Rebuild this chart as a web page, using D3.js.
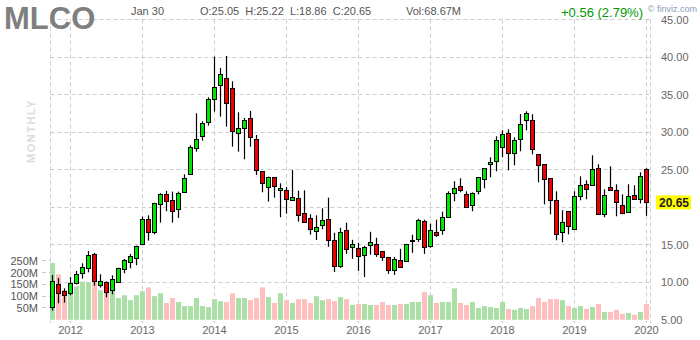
<!DOCTYPE html>
<html>
<head>
<meta charset="utf-8">
<script src="https://cdn.jsdelivr.net/npm/d3@7"></script>
<style>
  body { margin: 0; background: #fff; }
  svg { display: block; font-family: Arial, 'Liberation Sans', sans-serif; }
</style>
</head>
<body>
<div id="chart"></div>
<script>
// monthly candles, Oct 2011 .. Jan 2020
const open = [6.67, 9.73, 8.8, 8.49, 9.87, 11.2, 11.91, 13.73, 9.6, 10.0,
  8.8, 10.0, 11.73, 12.67, 13.2, 15.07, 18.44, 16.62, 20.27, 21.64,
  20.93, 19.73, 22.0, 24.4, 27.87, 29.47, 31.33, 34.4, 36.27, 37.2,
  35.87, 29.87, 30.53, 31.87, 29.07, 24.8, 22.67, 24.0, 22.27, 22.27,
  20.93, 21.2, 19.2, 18.53, 16.8, 17.6, 18.35, 15.54, 12.05, 16.88,
  14.6, 14.46, 13.53, 14.87, 15.0, 14.06, 13.26, 11.52, 12.86, 12.72,
  15.5, 15.67, 18.08, 14.73, 16.61, 16.88, 18.67, 21.87, 22.8, 21.73,
  20.27, 22.13, 23.73, 25.73, 26.13, 28.0, 29.87, 27.2, 29.07, 31.6,
  31.6, 27.07, 25.73, 23.87, 20.93, 16.67, 19.47, 17.07, 21.47, 23.07,
  22.93, 25.2, 19.07, 22.67, 22.27, 20.27, 19.33, 21.6, 21.07, 25.05]
const high = [10.98, 10.58, 9.2, 10.71, 11.51, 12.53, 14.18, 13.91, 11.07, 10.13,
  10.93, 11.95, 13.11, 13.78, 14.89, 18.76, 18.93, 20.6, 21.87, 22.18,
  22.09, 22.09, 24.4, 28.27, 32.53, 31.47, 34.67, 40.09, 38.58, 40.18,
  36.8, 32.67, 31.91, 32.84, 29.64, 24.8, 24.09, 24.0, 23.2, 22.71,
  24.98, 22.22, 22.27, 19.07, 18.93, 19.87, 21.29, 16.61, 17.28, 17.95,
  15.67, 15.27, 14.87, 16.74, 15.94, 14.06, 13.39, 13.39, 14.46, 15.13,
  16.34, 18.48, 18.35, 17.81, 18.35, 19.42, 22.13, 23.47, 23.87, 22.13,
  22.0, 24.05, 25.2, 26.67, 29.47, 30.27, 30.4, 29.33, 32.44, 32.8,
  32.4, 27.07, 25.73, 23.87, 22.13, 19.6, 19.47, 22.13, 24.13, 23.6,
  26.93, 25.73, 22.4, 25.47, 23.07, 21.73, 23.07, 22.93, 24.67, 25.22]
const low = [6.22, 7.2, 7.29, 8.27, 9.73, 10.49, 11.33, 9.56, 9.29, 8.0,
  8.4, 9.9, 11.2, 11.87, 12.27, 15.0, 15.56, 16.4, 17.96, 19.47,
  17.96, 18.58, 22.0, 24.4, 27.42, 28.89, 30.89, 32.76, 32.09, 30.76,
  28.09, 27.42, 26.4, 28.09, 24.31, 22.0, 20.76, 21.29, 18.67, 19.16,
  20.9, 18.09, 17.95, 16.36, 15.64, 17.07, 14.73, 11.38, 11.92, 13.79,
  13.13, 11.52, 10.71, 13.66, 13.39, 12.86, 11.12, 10.98, 11.9, 12.7,
  13.93, 15.4, 13.79, 14.6, 16.07, 16.34, 18.6, 20.8, 22.0, 19.95,
  19.47, 21.73, 22.53, 24.0, 24.8, 26.67, 24.93, 25.6, 27.47, 30.27,
  27.07, 23.33, 20.4, 19.07, 15.6, 15.33, 16.4, 17.0, 20.93, 21.07,
  22.9, 19.0, 18.67, 22.2, 18.8, 19.07, 19.3, 21.0, 20.53, 18.86]
const close = [10.13, 8.49, 8.22, 9.87, 11.07, 12.0, 13.6, 10.13, 10.13, 8.67,
  10.31, 11.87, 12.89, 13.47, 14.8, 18.4, 16.76, 20.53, 21.64, 20.76,
  19.42, 21.87, 23.87, 28.0, 29.07, 31.2, 34.4, 36.0, 37.73, 33.87,
  30.13, 30.53, 31.6, 29.33, 24.93, 23.2, 24.0, 22.8, 22.53, 21.07,
  21.33, 18.93, 18.0, 17.07, 17.33, 18.27, 15.54, 12.05, 16.61, 14.33,
  15.0, 13.39, 14.6, 15.27, 13.66, 13.26, 11.52, 12.99, 11.92, 15.0,
  15.55, 18.21, 14.6, 16.88, 16.21, 18.62, 21.87, 22.53, 22.27, 20.0,
  21.87, 24.0, 25.2, 26.0, 28.93, 29.73, 27.2, 28.93, 31.07, 32.53,
  27.73, 25.6, 23.73, 20.93, 16.4, 18.0, 17.47, 21.47, 22.93, 22.4,
  25.07, 19.07, 21.6, 22.27, 20.67, 19.2, 21.47, 21.07, 24.13, 20.65]
// millions of shares
const volume = [241, 192, 125, 139, 142, 162, 158, 164, 125, 114,
  122, 92, 104, 83, 104, 121, 137, 100, 112, 71,
  92, 75, 58, 58, 92, 58, 54, 87.5, 79, 75,
  112, 92, 92, 83, 92, 137.5, 96, 71, 112, 83,
  71, 87.5, 87.5, 71, 100, 83, 87.5, 79, 96, 87.5,
  62.5, 67, 67, 62.5, 62.5, 75, 62.5, 62.5, 67, 67,
  75, 75, 117, 104, 71, 75, 75, 133, 71, 62.5,
  75, 50, 58, 54, 50, 75, 46, 42, 50, 46,
  58, 92, 75, 87.5, 87.5, 83, 58, 50, 58, 46,
  54, 67, 33, 33, 42, 25, 29, 21, 33, 67]

const priceTicks = [45, 40, 35, 30, 25, 20, 15, 10, 5]
const volumeTicks = [250, 200, 150, 100, 50]
const yearTicks = [2012, 2013, 2014, 2015, 2016, 2017, 2018, 2019, 2020]
const firstMonth = new Date(2011, 9, 1)

const ticker = 'MLCO'
const dateLabel = 'Jan 30'
const ohlcLabel = 'O:25.05  H:25.22  L:18.86  C:20.65'
const volLabel = 'Vol:68.67M'
const changeLabel = '+0.56 (2.79%)'
const lastPrice = 20.65

const width = 700
const height = 340
const plot = { left: 50.5, right: 650.5, top: 19.5, bottom: 320 }

const months = d3.timeMonth.range(firstMonth, d3.timeMonth.offset(firstMonth, open.length))
const candles = months.map((m, i) => ({ m, o: open[i], h: high[i], l: low[i], c: close[i], v: volume[i] }))

const x = d3.scaleBand().domain(months.map(m => +m)).range([49.5, 649.5])
const cx = m => x(+m) + x.bandwidth() / 2
const y = d3.scaleLinear().domain([5, 45]).range([319.8, 19.8])
const yv = d3.scaleLinear().domain([0, 250]).range([319.8, 260.7])
const crisp = v => Math.round(v - 0.5) + 0.5

const svg = d3.select('#chart')
  .append('svg')
  .attr('width', width)
  .attr('height', height)

const grid = svg.append('g')
  .attr('stroke', '#ccc')
  .attr('stroke-dasharray', '4,3')
  .attr('fill', 'none')

grid.selectAll('line.h')
  .data(priceTicks.filter(p => p > 5))
  .join('line')
  .attr('x1', plot.left)
  .attr('x2', plot.right)
  .attr('y1', d => crisp(y(d)))
  .attr('y2', d => crisp(y(d)))

const yearX = yr => cx(new Date(yr, 0, 1))
grid.selectAll('line.v')
  .data([plot.left, plot.right].concat(yearTicks.map(yr => crisp(yearX(yr)))))
  .join('line')
  .attr('x1', d => d)
  .attr('x2', d => d)
  .attr('y1', plot.top)
  .attr('y2', 323)

// volume axis ticks on the left
grid.selectAll('line.vt')
  .data(volumeTicks)
  .join('line')
  .attr('x1', 42)
  .attr('x2', plot.left)
  .attr('y1', d => crisp(yv(d)))
  .attr('y2', d => crisp(yv(d)))

svg.append('g')
  .selectAll('rect')
  .data(candles)
  .join('rect')
  .attr('x', d => cx(d.m) - 2.5)
  .attr('width', 5)
  .attr('y', d => yv(d.v))
  .attr('height', d => yv(0) - yv(d.v))
  .attr('fill', d => d.c >= d.o ? '#aadfa6' : '#ffbfbf')

const cg = svg.append('g')
cg.selectAll('line')
  .data(candles)
  .join('line')
  .attr('x1', d => cx(d.m))
  .attr('x2', d => cx(d.m))
  .attr('y1', d => y(d.h))
  .attr('y2', d => y(d.l))
  .attr('stroke', '#000')
  .attr('stroke-width', 1.2)

cg.selectAll('rect')
  .data(candles)
  .join('rect')
  .attr('x', d => cx(d.m) - 2)
  .attr('width', 4)
  .attr('y', d => crisp(y(Math.max(d.o, d.c))))
  .attr('height', d => Math.max(1, Math.round(Math.abs(y(d.o) - y(d.c)))))
  .attr('fill', d => d.c >= d.o ? '#00e600' : '#ee0000')
  .attr('stroke', '#000')
  .attr('stroke-width', 1)

// right price axis; the 20.00 label sits under the last-price marker
svg.append('g')
  .selectAll('text')
  .data(priceTicks.filter(p => Math.abs(p - lastPrice) > 1))
  .join('text')
  .attr('x', 661)
  .attr('y', d => y(d) + 4)
  .attr('font-size', 11)
  .attr('fill', '#666')
  .text(d => d.toFixed(2))

svg.append('rect')
  .attr('x', 656)
  .attr('y', y(lastPrice) - 7)
  .attr('width', 35)
  .attr('height', 14)
  .attr('fill', '#ffff00')
svg.append('text')
  .attr('x', 659)
  .attr('y', y(lastPrice) + 4.5)
  .attr('font-size', 12)
  .attr('font-weight', 'bold')
  .attr('fill', '#222')
  .text(lastPrice.toFixed(2))

// volume labels
svg.append('g')
  .selectAll('text')
  .data(volumeTicks)
  .join('text')
  .attr('x', 38)
  .attr('y', d => yv(d) + 4)
  .attr('text-anchor', 'end')
  .attr('font-size', 11)
  .attr('fill', '#555')
  .text(d => d + 'M')

// year labels
svg.append('g')
  .selectAll('text')
  .data(yearTicks)
  .join('text')
  .attr('x', d => yearX(d))
  .attr('y', 334)
  .attr('text-anchor', 'middle')
  .attr('font-size', 11)
  .attr('fill', '#666')
  .text(d => d)

svg.append('text')
  .attr('transform', 'translate(35,131) rotate(-90)')
  .attr('text-anchor', 'middle')
  .attr('font-size', 11)
  .attr('font-weight', 'bold')
  .attr('letter-spacing', 1.5)
  .attr('fill', '#dcdcdc')
  .text('MONTHLY')

// header
svg.append('text')
  .attr('x', 4)
  .attr('y', 29)
  .attr('font-size', 31)
  .attr('font-weight', 'bold')
  .attr('fill', '#7f7f7f')
  .text(ticker)

const header = [[131, dateLabel], [200, ohlcLabel], [406, volLabel]]
svg.append('g')
  .selectAll('text')
  .data(header)
  .join('text')
  .attr('x', d => d[0])
  .attr('y', 15)
  .attr('font-size', 11)
  .attr('fill', '#555')
  .style('white-space', 'pre')
  .text(d => d[1])

svg.append('text')
  .attr('x', 643)
  .attr('y', 17)
  .attr('text-anchor', 'end')
  .attr('font-size', 13)
  .attr('fill', '#009a00')
  .text(changeLabel)

svg.append('text')
  .attr('x', 697)
  .attr('y', 12)
  .attr('text-anchor', 'end')
  .attr('font-size', 9)
  .attr('fill', '#8a9ab8')
  .text('\u00a9 finviz.com')
</script>
</body>
</html>
